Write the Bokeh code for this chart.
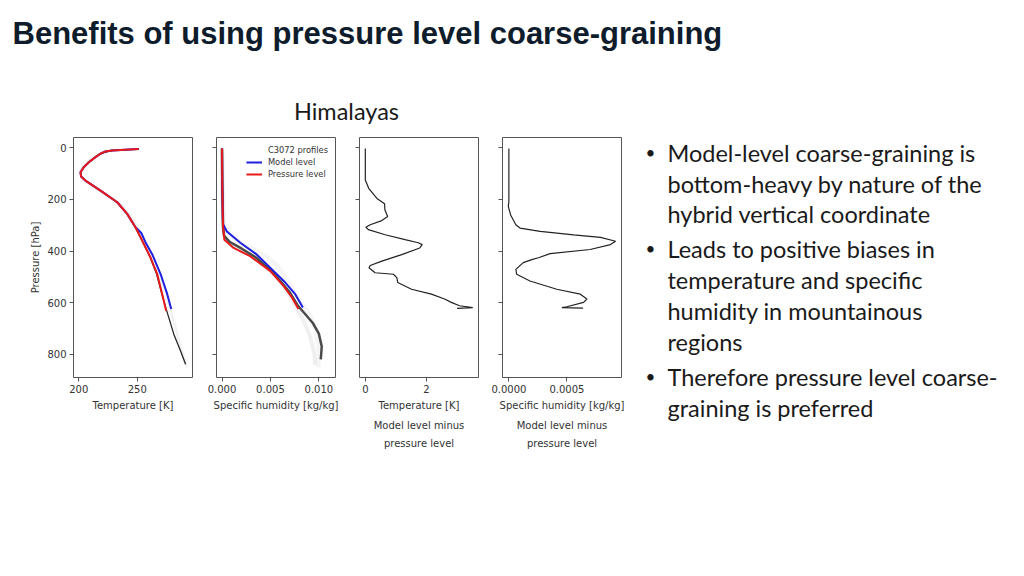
from bokeh.plotting import figure
from bokeh.models import Range1d, FixedTicker, PrintfTickFormatter, CustomJSTickFormatter, Legend, LegendItem, Title
from bokeh.layouts import row, column
from bokeh.core.properties import value
from bokeh.embed import file_html
from bokeh.resources import INLINE

# ---------------- data ----------------
title_text = "Benefits of using pressure level coarse-graining"
region_text = "Himalayas"
bullets = [
    ["Model-level coarse-graining is", "bottom-heavy by nature of the", "hybrid vertical coordinate"],
    ["Leads to positive biases in", "temperature and specific", "humidity in mountainous", "regions"],
    ["Therefore pressure level coarse-", "graining is preferred"],
]
caption_lines = ["Model level minus", "pressure level"]
pressure_ticks = [0, 200, 400, 600, 800]

# Panel 1: temperature [K] vs pressure [hPa]
pl_T = [251.4, 235.7, 228.6, 222.9, 218.6, 214.3, 208.6, 204.3, 201.5, 202.0, 205.7, 218.6, 232.9, 241.4, 248.5, 254.3, 261.4, 267.1, 271.4, 274.8]
pl_T_p = [5, 8, 10, 14, 23, 36, 56, 75, 95, 111, 127, 166, 211, 256, 308, 360, 425, 489, 567, 632]
ml_T = [251.4, 235.7, 228.6, 222.9, 218.6, 214.3, 208.6, 204.3, 201.5, 202.0, 205.7, 218.6, 232.9, 241.4, 248.5, 253.5, 257.5, 262.8, 270.0, 275.7, 279.1]
ml_T_p = [5, 8, 10, 14, 23, 36, 56, 75, 95, 111, 127, 166, 211, 256, 308, 330, 370, 412, 489, 567, 625]
prof_T_a = [251.0, 228.0, 218.0, 209.0, 204.0, 201.5, 202.0, 206.0, 219.0, 233.0, 241.5, 248.0, 254.0, 261.0, 266.5, 271.0, 274.5, 276.5, 281.3, 287.1, 291.4]
prof_T_a_p = [5, 10, 23, 55, 75, 95, 112, 128, 167, 212, 257, 305, 358, 424, 488, 565, 620, 650, 722, 787, 839]
prof_T_b = [249.0, 226.0, 216.0, 207.0, 202.5, 201.0, 203.0, 208.0, 221.0, 236.0, 244.0, 251.0, 257.0, 264.0, 270.0, 274.5, 277.5, 283.0, 289.0, 292.5]
prof_T_b_p = [6, 11, 25, 58, 80, 100, 118, 135, 172, 220, 262, 310, 380, 450, 505, 555, 615, 700, 800, 850]

# Panel 2: specific humidity [kg/kg] vs pressure [hPa]
pl_q = [0.0, 0.00003, 0.0001, 0.00024, 0.0012, 0.0029, 0.0050, 0.00635, 0.00722, 0.0079]
pl_q_p = [3, 150, 300, 356, 388, 420, 478, 535, 580, 625]
ml_q = [0.0, 0.00003, 0.0001, 0.0005, 0.00189, 0.0036, 0.00516, 0.00653, 0.00756, 0.00835]
ml_q_p = [3, 150, 295, 324, 368, 414, 471, 522, 567, 619]
prof_q_a = [0.0, 0.00003, 0.0001, 0.0002, 0.0008, 0.0020, 0.0035, 0.0049, 0.0060, 0.0070, 0.0078, 0.0086, 0.0094, 0.0100, 0.0103, 0.0102]
prof_q_a_p = [3, 150, 300, 340, 365, 390, 425, 470, 515, 560, 610, 645, 680, 720, 770, 820]
prof_q_b = [0.0, 0.00005, 0.0002, 0.0006, 0.0016, 0.0030, 0.0045, 0.0056, 0.0064, 0.0072, 0.0082, 0.0091, 0.0097, 0.0100, 0.0099]
prof_q_b_p = [3, 150, 290, 330, 360, 390, 420, 455, 495, 545, 600, 650, 710, 780, 850]
prof_q_c = [0.0, 0.00002, 0.0001, 0.0003, 0.0012, 0.0026, 0.0040, 0.0052, 0.0064, 0.0074, 0.0083, 0.0090, 0.0095, 0.0096]
prof_q_c_p = [3, 150, 310, 350, 375, 405, 440, 485, 540, 600, 660, 720, 790, 840]

# Panel 3: temperature difference (model level minus pressure level) [K]
dT = [0.0, 0.0, 0.11, 0.38, 0.63, 0.64, 0.73, 0.54, 0.16, 0.02, 0.10, 0.65, 1.30, 1.73, 1.86, 1.78, 1.19, 0.54, 0.16, 0.12, 0.32, 0.92, 1.03, 1.06, 1.51, 2.16, 2.59, 2.81, 3.08, 3.51, 3.00]
dT_p = [3, 125, 157, 196, 217, 240, 266, 282, 298, 308, 317, 337, 356, 368, 375, 388, 414, 439, 456, 465, 484, 490, 503, 522, 548, 567, 586, 599, 612, 619, 622]

# Panel 4: specific humidity difference [kg/kg]
dq = [0.0, 0.0, -0.000005, 0.000015, 0.00006, 0.000096, 0.00027, 0.000558, 0.00079, 0.00092, 0.000876, 0.0007, 0.000355, 0.000255, 0.000197, 0.000124, 0.00006, 0.000067, 0.000182, 0.000413, 0.000616, 0.000673, 0.000644, 0.0005, 0.000457, 0.00064]
dq_p = [3, 208, 227, 260, 298, 311, 324, 337, 347, 362, 375, 394, 410, 426, 433, 445, 471, 490, 516, 548, 567, 586, 599, 616, 619, 621]

# ---------------- styling helpers ----------------
TICK_FONT = "DejaVu Sans"
AX_COLOR = "#555555"
TXT_COLOR = "#333333"
PANEL_H = 325


def make_panel(width, border_left, xr, xticks, fmt, xlabel, ylabels):
    p = figure(width=width, height=PANEL_H, output_backend="svg", toolbar_location=None,
               x_range=Range1d(*xr), y_range=Range1d(890, -40),
               min_border_left=border_left, min_border_right=12, min_border_top=5, min_border_bottom=80)
    p.grid.visible = False
    p.outline_line_color = AX_COLOR
    p.outline_line_width = 1
    p.background_fill_color = "white"
    p.border_fill_color = "white"
    for ax in p.axis:
        ax.axis_line_color = None
        ax.major_tick_line_color = AX_COLOR
        ax.major_tick_out = 4
        ax.major_tick_in = 0
        ax.minor_tick_line_color = None
        ax.major_label_text_font = TICK_FONT
        ax.major_label_text_font_size = "10px"
        ax.major_label_text_color = TXT_COLOR
        ax.major_label_standoff = 3
        ax.axis_label_text_font = TICK_FONT
        ax.axis_label_text_font_size = "10px"
        ax.axis_label_text_font_style = "normal"
        ax.axis_label_text_color = TXT_COLOR
        ax.axis_label_standoff = 4
    p.xaxis.ticker = FixedTicker(ticks=xticks)
    p.xaxis.formatter = PrintfTickFormatter(format=fmt)
    p.xaxis.axis_label = xlabel
    p.yaxis.ticker = FixedTicker(ticks=pressure_ticks)
    if ylabels:
        p.yaxis.formatter = PrintfTickFormatter(format="%d")
        p.yaxis.axis_label = "Pressure [hPa]"
        p.yaxis.axis_label_standoff = 3
    else:
        p.yaxis.formatter = CustomJSTickFormatter(code="return ''")
    return p


def add_caption(p):
    t1 = Title(text=caption_lines[0], align="center", text_font=TICK_FONT, text_font_size="10px",
               text_font_style="normal", text_color=TXT_COLOR, standoff=9)
    t2 = Title(text=caption_lines[1], align="center", text_font=TICK_FONT, text_font_size="10px",
               text_font_style="normal", text_color=TXT_COLOR, standoff=0)
    p.add_layout(t1, "below")
    p.add_layout(t2, "below")


# Panel 1
p1 = make_panel(204, 73, (195.5, 297.3), [200, 250], "%d", "Temperature [K]", True)
p1.line(prof_T_b, prof_T_b_p, line_color="black", line_alpha=0.05, line_width=3)
p1.line(prof_T_a, prof_T_a_p, line_color="black", line_alpha=0.85, line_width=1.3)
p1.line(ml_T, ml_T_p, line_color="#1f1fe0", line_width=2)
p1.line(pl_T, pl_T_p, line_color="#e81919", line_width=2)

# Panel 2
p2 = make_panel(143, 12, (-0.00057, 0.01172), [0.0, 0.005, 0.01], "%.3f", "Specific humidity [kg/kg]", False)
p2.line(prof_q_b, prof_q_b_p, line_color="black", line_alpha=0.04, line_width=5)
p2.line(prof_q_c, prof_q_c_p, line_color="black", line_alpha=0.06, line_width=4)
p2.line(prof_q_a, prof_q_a_p, line_color="black", line_alpha=0.7, line_width=2.5)
r_hdr = p2.line([0.0], [0.0], line_alpha=0)
r_ml = p2.line(ml_q, ml_q_p, line_color="#1f1fe0", line_width=2)
r_pl = p2.line(pl_q, pl_q_p, line_color="#e81919", line_width=2)
leg = Legend(items=[LegendItem(label="C3072 profiles", renderers=[r_hdr]),
                    LegendItem(label="Model level", renderers=[r_ml]),
                    LegendItem(label="Pressure level", renderers=[r_pl])],
             location="top_right", margin=5, padding=2, spacing=0,
             glyph_width=16, glyph_height=12, label_height=12, label_standoff=6,
             label_text_font=TICK_FONT, label_text_font_size="8.3px", label_text_color=TXT_COLOR,
             background_fill_alpha=0, border_line_alpha=0)
p2.add_layout(leg)

# Panel 3
p3 = make_panel(143, 12, (-0.19, 3.7), [0, 2], "%d", "Temperature [K]", False)
p3.line(dT, dT_p, line_color="#222222", line_width=1.2)
add_caption(p3)

# Panel 4
p4 = make_panel(143, 12, (-0.000055, 0.000971), [0.0, 0.0005], "%.4f", "Specific humidity [kg/kg]", False)
p4.line(dq, dq_p, line_color="#222222", line_width=1.2)
add_caption(p4)

# ---------------- text figures ----------------
def blank(width, height):
    f = figure(width=width, height=height, output_backend="svg", toolbar_location=None,
               x_range=Range1d(0, width), y_range=Range1d(height, 0), min_border=0)
    f.axis.visible = False
    f.grid.visible = False
    f.outline_line_color = None
    f.background_fill_color = "white"
    f.border_fill_color = "white"
    return f


top = blank(1024, 132)
top.text(x=[12], y=[33], text=[title_text], text_font=value("Liberation Sans"), text_font_size="31px",
         text_font_style="bold", text_color="#0e1c2c", text_align="left", text_baseline="alphabetic")
top.text(x=[346], y=[110], text=[region_text], text_font=value("Lato"), text_font_size="23.5px",
         text_color="#1a1a1a", text_align="center", text_baseline="middle")

side = blank(391, PANEL_H)
line_y = [20, 51, 81, 116, 147, 178, 209, 244, 275]
k = 0
bx, by, tx, ty, tt = [], [], [], [], []
for b in bullets:
    for j, ln in enumerate(b):
        if j == 0:
            bx.append(12)
            by.append(line_y[k])
        tx.append(34)
        ty.append(line_y[k])
        tt.append(ln)
        k += 1
side.text(x=bx, y=by, text=["\u2022"] * len(bx), text_font=value("Lato"), text_font_size="17px",
          text_color="#1a1a1a", text_align="left", text_baseline="middle")
side.text(x=tx, y=ty, text=tt, text_font=value("Lato"), text_font_size="23.5px",
          text_color="#1a1a1a", text_align="left", text_baseline="middle")

layout = column(top, row(p1, p2, p3, p4, column(side)))
open("out.html", "w").write(file_html(layout, INLINE))
